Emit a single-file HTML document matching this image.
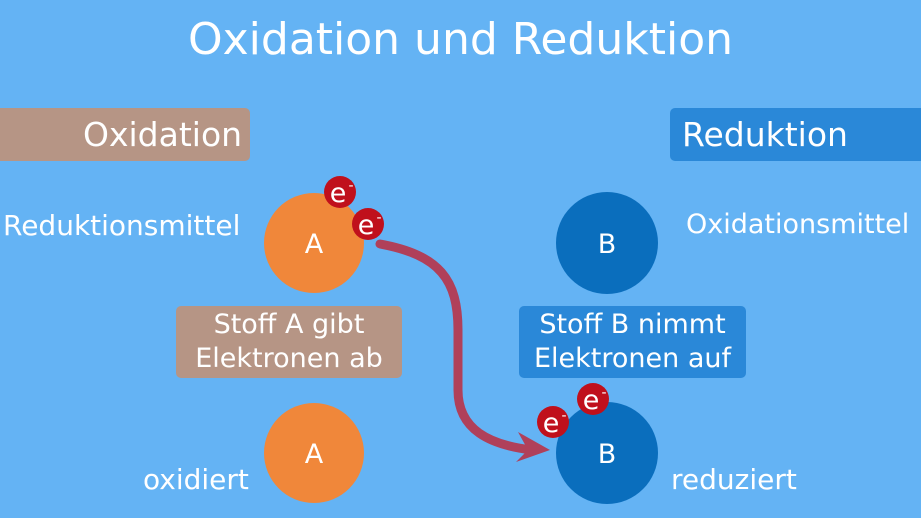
<!DOCTYPE html>
<html><head><meta charset="utf-8"><style>
html,body{margin:0;padding:0}
body{width:921px;height:518px;background:#64b3f4;position:relative;overflow:hidden;font-family:"DejaVu Sans","Liberation Sans",sans-serif;color:#fff}
.t{position:absolute;white-space:nowrap}
.box{position:absolute;border-radius:5px}
</style></head><body>
<div class="t" style="left:0;width:921px;text-align:center;top:14px;font-size:44px">Oxidation und Reduktion</div>
<div class="box" style="left:-5px;top:108px;width:255px;height:53px;background:#b69585"></div>
<div class="t" style="left:83px;top:115px;font-size:33px">Oxidation</div>
<div class="box" style="left:670px;top:108px;width:260px;height:53px;background:#2a88d8"></div>
<div class="t" style="left:682px;top:115px;font-size:33px">Reduktion</div>
<div class="t" style="left:3px;top:209px;font-size:28px">Reduktionsmittel</div>
<div class="t" style="left:686px;top:209px;font-size:27px">Oxidationsmittel</div>
<div class="t" style="left:143px;top:463px;font-size:28px">oxidiert</div>
<div class="t" style="left:671px;top:463px;font-size:28px">reduziert</div>
<div class="box" style="left:176px;top:306px;width:226px;height:72px;background:#b69585"></div>
<div class="t" style="left:176px;width:226px;text-align:center;top:308px;font-size:27px;line-height:34px">Stoff A gibt<br>Elektronen ab</div>
<div class="box" style="left:519px;top:306px;width:227px;height:72px;background:#2a88d8"></div>
<div class="t" style="left:519px;width:227px;text-align:center;top:308px;font-size:27px;line-height:34px">Stoff B nimmt<br>Elektronen auf</div>
<svg width="921" height="518" style="position:absolute;left:0;top:0" font-family="DejaVu Sans, sans-serif">
<g fill="#fff" font-size="27" text-anchor="middle">
<circle cx="314" cy="243" r="50" fill="#f0873a"/><text x="314" y="253">A</text>
<circle cx="607" cy="243" r="51" fill="#0a6ebd"/><text x="607" y="253">B</text>
<circle cx="314" cy="453" r="50" fill="#f0873a"/><text x="314" y="463">A</text>
<circle cx="607" cy="453" r="51" fill="#0a6ebd"/><text x="607" y="463">B</text>
</g>
<path d="M380,244 C440,255 458,280 458,330 L458,390 C458,430 490,445 532,450" fill="none" stroke="#b0405a" stroke-width="9" stroke-linecap="round"/>
<polygon points="550,450 518,432 528,450 516,462" fill="#b0405a"/>
<g fill="#fff" font-size="27" text-anchor="middle">
<circle cx="340" cy="192" r="16" fill="#c0101c"/><text x="338" y="202">e</text><text x="351" y="190" font-size="14">-</text>
<circle cx="368" cy="224" r="16" fill="#c0101c"/><text x="366" y="234">e</text><text x="379" y="222" font-size="14">-</text>
<circle cx="593" cy="399" r="16" fill="#c0101c"/><text x="591" y="409">e</text><text x="604" y="397" font-size="14">-</text>
<circle cx="553" cy="422" r="16" fill="#c0101c"/><text x="551" y="432">e</text><text x="564" y="420" font-size="14">-</text>
</g>
</svg>
</body></html>
